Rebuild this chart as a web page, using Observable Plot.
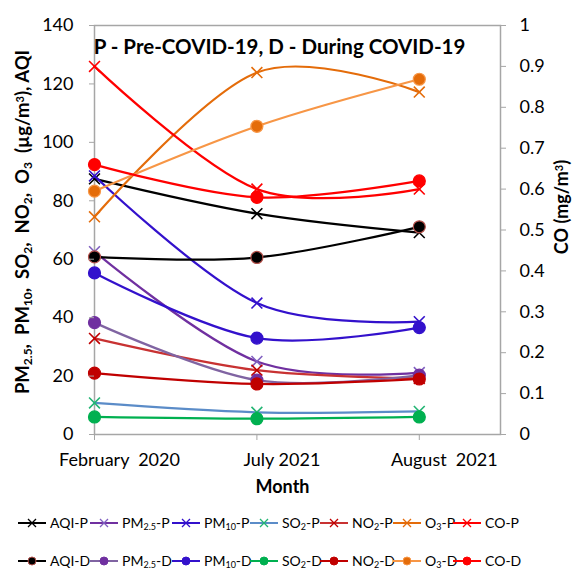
<!DOCTYPE html>
<html><head><meta charset="utf-8">
<script src="https://cdn.jsdelivr.net/npm/d3@7"></script>
<script src="https://cdn.jsdelivr.net/npm/@observablehq/plot@0.6"></script>
<style>
body{margin:0;background:#fff;font-family:Lato,"Open Sans",sans-serif;}
#wrap{position:relative;width:572px;height:569px;overflow:hidden;}
#chart svg{display:block;}
#legend{position:relative;width:572px;height:64px;font-size:14px;color:#000;}
.item{position:absolute;display:flex;align-items:center;white-space:nowrap;transform:translateY(-50%);line-height:16px;}
.item svg{margin-right:4px;}
.item sub{font-size:9px;vertical-align:-2px;line-height:0;}
</style></head>
<body><div id="wrap"><div id="chart"></div><div id="legend"></div></div>
<script>
// ---- data ----
const months = ["February  2020", "July 2021", "August  2021"];
const aqiP  = [87.5, 75.6, 69.1];
const aqiD  = [60.8, 60.6, 71.1];
const pm25P = [62.6, 25.0, 21.2];
const pm25D = [38.3, 18.6, 20.3];
const pm10P = [88.5, 45.0, 38.6];
const pm10D = [55.3, 33.0, 36.6];
const so2P  = [10.8, 7.6, 7.9];
const so2D  = [6.0, 5.4, 6.0];
const no2P  = [32.9, 22.0, 19.2];
const no2D  = [21.0, 17.3, 19.0];
const o3P   = [74.5, 123.9, 117.2];
const o3D   = [83.3, 105.5, 121.6];
const coP   = [0.90, 0.60, 0.60];   // mg/m3, right axis
const coD   = [0.66, 0.58, 0.62];
const leftTicks = [0, 20, 40, 60, 80, 100, 120, 140];
const rightTicks = [0, 0.1, 0.2, 0.3, 0.4, 0.5, 0.6, 0.7, 0.8, 0.9, 1];
const coMax = 1, leftMax = 140;

// ---- series styles ----
const series = [
  {name:["AQI","","-P"],  v:aqiP,  line:"#000000", mk:"times",  mc:"#000000"},
  {name:["PM","2.5","-P"],v:pm25P, line:"#7030A0", mk:"times",  mc:"#8060C0"},
  {name:["PM","10","-P"], v:pm10P, line:"#3311CC", mk:"times",  mc:"#3311CC"},
  {name:["SO","2","-P"],  v:so2P,  line:"#5B8CC8", mk:"times",  mc:"#22B573"},
  {name:["NO","2","-P"],  v:no2P,  line:"#C83232", mk:"times",  mc:"#C00000"},
  {name:["O","3","-P"],   v:o3P,   line:"#E46C0A", mk:"times",  mc:"#E46C0A"},
  {name:["CO","","-P"],   v:coP,   line:"#FF0000", mk:"times",  mc:"#FF0000", co:true},
  {name:["AQI","","-D"],  v:aqiD,  line:"#000000", mk:"circle", mc:"#000000", ms:"#B5524C"},
  {name:["PM","2.5","-D"],v:pm25D, line:"#8064A2", mk:"circle", mc:"#7030A0"},
  {name:["PM","10","-D"], v:pm10D, line:"#3311CC", mk:"circle", mc:"#3311CC"},
  {name:["SO","2","-D"],  v:so2D,  line:"#00B050", mk:"circle", mc:"#00B050"},
  {name:["NO","2","-D"],  v:no2D,  line:"#C00000", mk:"circle", mc:"#C00000"},
  {name:["O","3","-D"],   v:o3D,   line:"#F79646", mk:"circle", mc:"#E46C0A", ms:"#F79646"},
  {name:["CO","","-D"],   v:coD,   line:"#FF0000", mk:"circle", mc:"#FF0000", co:true}
];
series.forEach(s => s.rows = s.v.map((v, i) => ({i, v: s.co ? v * leftMax / coMax : v})));

const gray = "#A6A6A6";
const marks = [Plot.frame({stroke: gray, strokeWidth: 1.5})];
series.forEach(s => {
  marks.push(Plot.line(s.rows, {x:"i", y:"v", stroke:s.line, strokeWidth:2.25, curve:"cardinal"}));
  if (s.mk === "times") {
    marks.push(Plot.dot(s.rows, {x:"i", y:"v", symbol:"times", r:5, stroke:s.mc, strokeWidth:1.6}));
  } else {
    marks.push(Plot.dot(s.rows, {x:"i", y:"v", symbol:"circle", r:6, fill:s.mc, stroke:s.ms || s.mc, strokeWidth:1.2}));
  }
});

marks.push(
  Plot.axisY({anchor:"left", ticks:leftTicks, tickSize:5, tickPadding:16, fontSize:18, stroke:gray, label:null}),
  Plot.axisY({anchor:"right", ticks:rightTicks.map(t => t * leftMax / coMax), tickFormat:d => String(+(d * coMax / leftMax).toFixed(1)), tickSize:5, tickPadding:14, fontSize:18, stroke:gray, label:null}),
  Plot.axisX({ticks:[0,1,2], tickFormat:() => "", tickSize:6, stroke:gray, label:null}),
  Plot.axisX({ticks:[0,1,2], tickFormat:i => months[i], tickSize:0, tickPadding:19, dx:25, fontSize:18, label:null}),
  Plot.text(["P - Pre-COVID-19, D - During COVID-19"], {frameAnchor:"top", dx:-18, dy:14, fontSize:20.5, fontWeight:"bold"}),
  Plot.text(["Month"], {frameAnchor:"bottom", dx:-15, dy:58, fontSize:18, fontWeight:"bold"})
);

const chart = Plot.plot({
  width:572, height:505,
  marginLeft:94, marginRight:72, marginTop:25, marginBottom:71,
  style:{fontFamily:"Lato, 'Open Sans', sans-serif", color:"#000", background:"#fff", overflow:"visible"},
  x:{domain:[0,2.5], axis:null},
  y:{domain:[0,leftMax], axis:null},
  marks
});
document.getElementById("chart").appendChild(chart);

// rotated axis titles with sub/superscripts
const svg = d3.select(chart);
function addLabel(x, y, size, parts) {
  const t = svg.append("text").attr("transform", `translate(${x},${y}) rotate(-90)`)
    .attr("text-anchor","middle").attr("font-weight","bold").attr("font-size",size).attr("fill","#000")
    .attr("font-family","Lato, 'Open Sans', sans-serif").attr("xml:space","preserve");
  parts.forEach(([txt, kind]) => {
    const ts = t.append("tspan").text(txt);
    if (kind === "sub") ts.attr("font-size",12).attr("baseline-shift","-25%");
    if (kind === "sup") ts.attr("font-size",11).attr("baseline-shift","45%");
  });
}
addLabel(29, 222, 18.5, [["PM"],["2.5","sub"],[",  PM"],["10","sub"],[",  SO"],["2","sub"],[",  NO"],["2","sub"],[",  O"],["3","sub"],["  (µg/m"],["3","sup"],["), AQI"]]);
addLabel(568, 207, 18, [["CO (mg/m"],["3","sup"],[")"]]);

// legend
const cols = [18, 90, 172, 250, 320, 393, 453];
const rowsY = [18, 56];
const legend = d3.select("#legend");
series.forEach((s, k) => {
  const row = k < 7 ? 0 : 1, col = k % 7;
  const item = legend.append("div").attr("class","item").style("left", cols[col] + "px").style("top", rowsY[row] + "px");
  const sv = item.append("svg").attr("width", 28).attr("height", 12);
  sv.append("line").attr("x1",0).attr("x2",28).attr("y1",6).attr("y2",6).attr("stroke", s.line).attr("stroke-width",2);
  if (s.mk === "times") {
    sv.append("path").attr("d","M10,2L18,10M18,2L10,10").attr("stroke", s.mc).attr("stroke-width",1.3);
  } else {
    sv.append("circle").attr("cx",14).attr("cy",6).attr("r",4).attr("fill", s.mc).attr("stroke", s.ms || s.mc);
  }
  const lab = item.append("span");
  lab.append("span").text(s.name[0]);
  if (s.name[1]) lab.append("sub").text(s.name[1]);
  lab.append("span").text(s.name[2]);
});
</script></body></html>
